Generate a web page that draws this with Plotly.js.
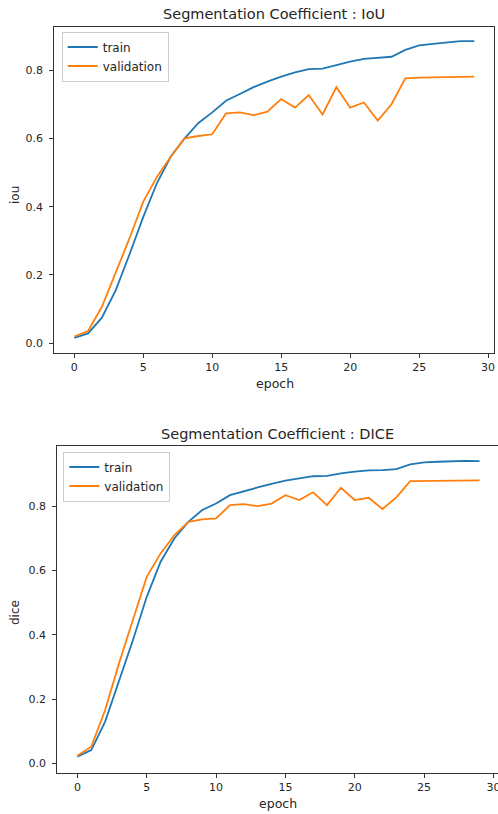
<!DOCTYPE html>
<html>
<head>
<meta charset="utf-8">
<script src="https://cdn.plot.ly/plotly-3.0.1.min.js"></script>
<style>html,body{margin:0;padding:0;background:#fff;}#chart{width:498px;height:814px;}</style>
</head>
<body>
<div id="chart"></div>
<script>
var epochs = [0,1,2,3,4,5,6,7,8,9,10,11,12,13,14,15,16,17,18,19,20,21,22,23,24,25,26,27,28,29];
var iouTrain = [0.016,0.029,0.075,0.155,0.26,0.37,0.47,0.547,0.60,0.645,0.676,0.71,0.73,0.75,0.766,0.781,0.793,0.803,0.804,0.815,0.825,0.833,0.836,0.839,0.859,0.872,0.877,0.881,0.885,0.885];
var iouVal = [0.02,0.036,0.107,0.205,0.307,0.415,0.488,0.547,0.60,0.607,0.612,0.673,0.676,0.668,0.678,0.715,0.69,0.727,0.67,0.75,0.69,0.705,0.652,0.70,0.776,0.778,0.779,0.78,0.78,0.781];
var diceTrain = [0.021,0.041,0.13,0.254,0.383,0.518,0.627,0.70,0.751,0.788,0.808,0.834,0.847,0.858,0.869,0.879,0.886,0.893,0.894,0.902,0.907,0.911,0.912,0.915,0.93,0.936,0.938,0.94,0.941,0.94];
var diceVal = [0.024,0.052,0.166,0.311,0.446,0.58,0.653,0.71,0.751,0.759,0.762,0.803,0.806,0.80,0.808,0.834,0.819,0.843,0.803,0.857,0.819,0.826,0.791,0.827,0.878,0.878,0.879,0.879,0.88,0.88];
var seriesNames = ["train", "validation"];
var titles = ["Segmentation Coefficient : IoU", "Segmentation Coefficient : DICE"];
var xLabel = "epoch";
var yLabels = ["iou", "dice"];
var xTicks = [0,5,10,15,20,25,30];
var yTicks = [0.0,0.2,0.4,0.6,0.8];
var yTickText = ["0.0","0.2","0.4","0.6","0.8"];

var W = 498, H = 814;
var blue = "#1f77b4", orange = "#ff7f0e";
var font = "DejaVu Sans, sans-serif";
var txt = "#262626";

function tr(x, y, name, color, xa, ya, lg){
  return {x:x, y:y, name:name, type:"scatter", mode:"lines",
    line:{color:color, width:1.8}, xaxis:xa, yaxis:ya, legend:lg, hoverinfo:"skip"};
}
var data = [
  tr(epochs, iouTrain, seriesNames[0], blue, "x", "y", "legend"),
  tr(epochs, iouVal, seriesNames[1], orange, "x", "y", "legend"),
  tr(epochs, diceTrain, seriesNames[0], blue, "x2", "y2", "legend2"),
  tr(epochs, diceVal, seriesNames[1], orange, "x2", "y2", "legend2")
];

function xax(dom, rng, anchor){
  return {domain:dom, range:rng, anchor:anchor, tickvals:xTicks, ticks:"outside", ticklen:4, tickwidth:1,
    tickcolor:"#333", showline:true, mirror:true, linecolor:"#333", linewidth:1, showgrid:false, zeroline:false,
    ticklabeloverflow:"allow",
    tickfont:{family:font, size:11, color:txt}, automargin:false, fixedrange:true};
}
function yax(dom, rng, anchor){
  return {domain:dom, range:rng, anchor:anchor, tickvals:yTicks, ticktext:yTickText, ticks:"outside", ticklen:4, tickwidth:1,
    tickcolor:"#333", showline:true, mirror:true, linecolor:"#333", linewidth:1, showgrid:false, zeroline:false,
    ticklabelstandoff:4,
    tickfont:{family:font, size:11, color:txt}, automargin:false, fixedrange:true};
}
function lg(x, y){
  return {x:x, y:y, xanchor:"left", yanchor:"top", xref:"paper", yref:"paper",
    bgcolor:"rgba(255,255,255,0.8)", bordercolor:"#cccccc", borderwidth:1,
    font:{family:font, size:12, color:txt}, tracegroupgap:0};
}
function ann(text, x, y, size, angle){
  return {text:text, x:x/W, y:1-y/H, xref:"paper", yref:"paper", showarrow:false,
    xanchor:"center", yanchor:"middle", textangle:angle||0, font:{family:font, size:size, color:txt}};
}

var layout = {
  width:W, height:H, margin:{l:0,r:0,t:0,b:0}, paper_bgcolor:"#fff", plot_bgcolor:"#fff",
  showlegend:true,
  xaxis: xax([54.3/W, 494.3/W], [-1.45, 30.45], "y"),
  yaxis: yax([1-353/H, 1-26.7/H], [-0.0284, 0.927], "x"),
  xaxis2: xax([57.3/W, 1], [-1.45, 30.33], "y2"),
  yaxis2: yax([1-772.7/H, 1-446/H], [-0.029, 0.987], "x2"),
  legend: lg(61.7/W, 1-31.5/H),
  legend2: lg(63.3/W, 1-451.5/H),
  annotations: [
    ann(titles[0], 274, 14, 14.5),
    ann(titles[1], 277, 434, 14.5),
    ann(xLabel, 275, 383, 12.5),
    ann(xLabel, 278, 803, 12.5),
    ann(yLabels[0], 15, 195, 12, -90),
    ann(yLabels[1], 15, 613, 12, -90)
  ]
};
Plotly.newPlot("chart", data, layout, {staticPlot:true, displayModeBar:false});
</script>
</body>
</html>
